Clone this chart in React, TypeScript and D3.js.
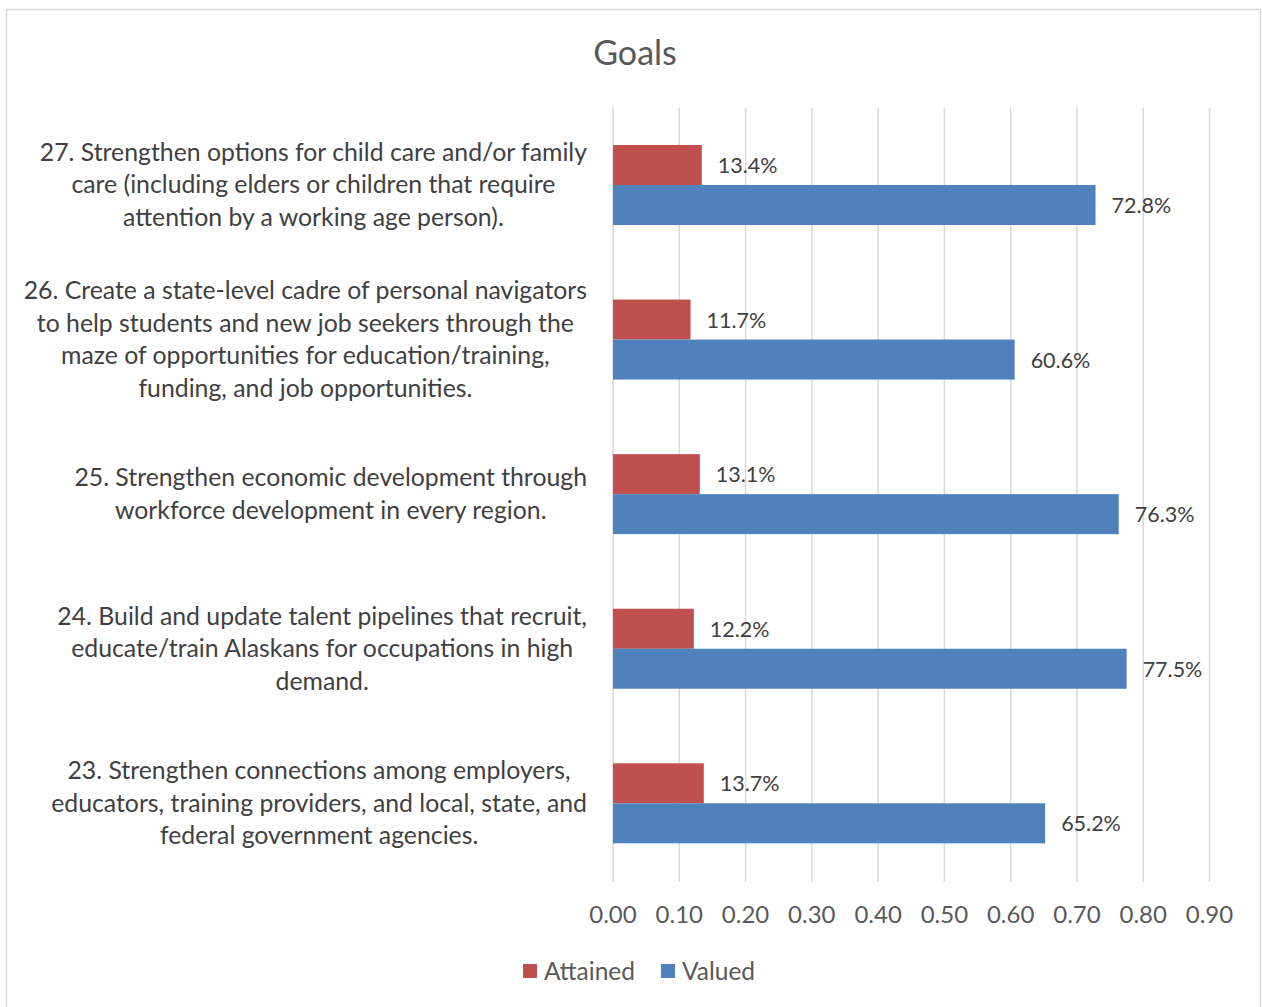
import React, { useEffect, useRef } from "react";
import * as d3 from "d3";

const categories = [
  "27. Strengthen options for child care and/or family|care (including elders or children that require|attention by a working age person).",
  "26. Create a state-level cadre of personal navigators|to help students and new job seekers through the|maze of opportunities for education/training,|funding, and job opportunities.",
  "25. Strengthen economic development through|workforce development in every region.",
  "24. Build and update talent pipelines that recruit,|educate/train Alaskans for occupations in high|demand.",
  "23. Strengthen connections among employers,|educators, training providers, and local, state, and|federal government agencies.",
];
const attained = [0.134, 0.117, 0.131, 0.122, 0.137];
const valued = [0.728, 0.606, 0.763, 0.775, 0.652];
const seriesNames = ["Attained", "Valued"];
const seriesColors = ["#C0504D", "#4F81BD"];
const xTicks = [0, 0.1, 0.2, 0.3, 0.4, 0.5, 0.6, 0.7, 0.8, 0.9];

const W = 1262;
const H = 1007;
const FONT = "Lato, Carlito, Calibri, sans-serif";

export default function App() {
  const ref = useRef<SVGSVGElement | null>(null);

  useEffect(() => {
    const svg = d3.select(ref.current);
    svg.selectAll("*").remove();

    const x = d3.scaleLinear().domain([0, 0.9]).range([613, 1209.5]);
    const y = d3.scaleBand<string>().domain(categories).range([107.7, 880.6]).paddingInner(0).paddingOuter(0);
    const barH = 40;

    // border
    svg.append("rect").attr("x", 6.5).attr("y", 9.5).attr("width", 1254).attr("height", 1010)
      .attr("fill", "#fff").attr("stroke", "#D9D9D9").attr("stroke-width", 1.5);

    // title
    svg.append("text").attr("x", 635).attr("y", 65).attr("text-anchor", "middle")
      .attr("font-family", FONT).attr("font-size", 34).attr("fill", "#595959").text("Goals");

    // gridlines
    svg.append("g").selectAll("line").data(xTicks).join("line")
      .attr("x1", (d) => x(d)).attr("x2", (d) => x(d))
      .attr("y1", 107.7).attr("y2", 882)
      .attr("stroke", "#D9D9D9").attr("stroke-width", 1.5);

    // tick labels
    svg.append("g").selectAll("text").data(xTicks).join("text")
      .attr("x", (d) => x(d)).attr("y", 923).attr("text-anchor", "middle")
      .attr("font-family", FONT).attr("font-size", 24).attr("fill", "#595959")
      .text((d) => d3.format(".2f")(d));

    const series = [attained, valued];
    series.forEach((vals, si) => {
      const g = svg.append("g");
      g.selectAll("rect").data(categories).join("rect")
        .attr("x", x(0))
        .attr("y", (c) => (y(c) as number) + y.bandwidth() / 2 - barH + si * barH)
        .attr("width", (c, i) => x(vals[i]) - x(0))
        .attr("height", barH)
        .attr("fill", seriesColors[si]);
      g.selectAll("text").data(categories).join("text")
        .attr("x", (c, i) => x(vals[i]) + 16)
        .attr("y", (c) => (y(c) as number) + y.bandwidth() / 2 - barH + si * barH + barH / 2 + 8)
        .attr("font-family", FONT).attr("font-size", 21.5).attr("fill", "#404040")
        .text((c, i) => d3.format(".1%")(vals[i]));
    });

    // category labels
    categories.forEach((c) => {
      const lines = c.split("|");
      const lh = 32.5;
      const cy = (y(c) as number) + y.bandwidth() / 2;
      const t = svg.append("text").attr("font-family", FONT).attr("font-size", 24.8)
        .attr("fill", "#404040").attr("text-anchor", "middle");
      const spans = lines.map((l, i) =>
        t.append("tspan").attr("x", 0).attr("y", cy + (i - (lines.length - 1) / 2) * lh + 8.5).text(l)
      );
      let maxW = 0;
      spans.forEach((s) => {
        const n = s.node() as SVGTSpanElement;
        maxW = Math.max(maxW, n.getComputedTextLength());
      });
      const cx = 587 - maxW / 2;
      spans.forEach((s) => s.attr("x", cx));
    });

    // legend
    const lg = svg.append("g");
    lg.append("rect").attr("x", 523).attr("y", 964).attr("width", 14).attr("height", 14).attr("fill", seriesColors[0]);
    lg.append("text").attr("x", 544).attr("y", 980).attr("font-family", FONT).attr("font-size", 24.5)
      .attr("fill", "#595959").text(seriesNames[0]);
    lg.append("rect").attr("x", 661).attr("y", 964).attr("width", 14).attr("height", 14).attr("fill", seriesColors[1]);
    lg.append("text").attr("x", 682).attr("y", 980).attr("font-family", FONT).attr("font-size", 24.5)
      .attr("fill", "#595959").text(seriesNames[1]);
  }, []);

  return (
    <svg ref={ref} width={W} height={H} style={{ position: "absolute", left: 0, top: 0, display: "block" }} />
  );
}
